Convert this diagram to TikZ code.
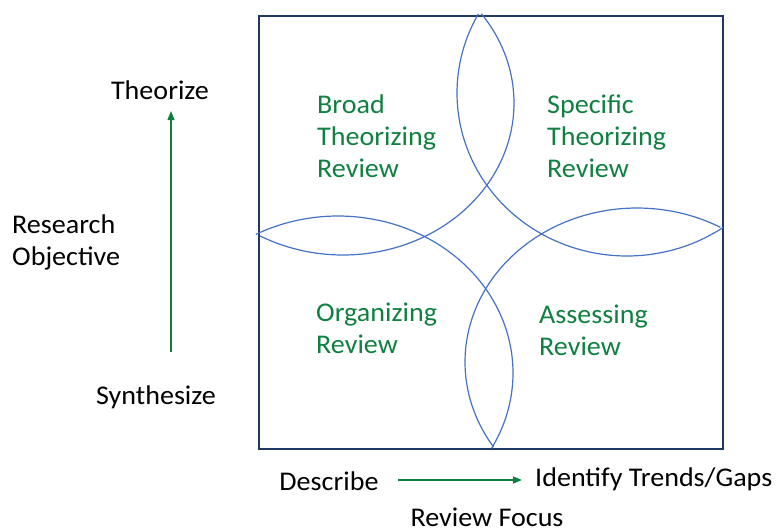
\documentclass[tikz,border=0pt]{standalone}
\usepackage{fontspec}
\setmainfont{Carlito}[FakeStretch=1.04]
\usetikzlibrary{arrows.meta}
\definecolor{petal}{RGB}{68,114,196}
\definecolor{frame}{RGB}{32,56,100}
\definecolor{lbl}{RGB}{16,128,64}
\tikzset{
  petalarc/.style={draw=petal, line width=1.2pt},
  quadtext/.style={text=lbl, align=left, inner sep=0pt, anchor=west, font=\fontsize{27}{32}\selectfont},
  axistext/.style={text=black, inner sep=0pt, font=\fontsize{27}{32}\selectfont},
  axisarrow/.style={draw=lbl, line width=1.3pt, -{Triangle[length=9pt,width=7pt]}}
}
\begin{document}
\begin{tikzpicture}[x=1pt,y=-1pt]
\useasboundingbox (0,0) rectangle (778,531);
% frame
\draw[frame, line width=1.5pt] (259,16) rectangle (723,449);
% petal arcs (ellipse pieces)
\draw[petalarc] plot[domain=55.5:209, samples=120, smooth] ({627+170*cos(\x)}, {93+163*sin(\x)});
\draw[petalarc] plot[domain=-36:119, samples=120, smooth] ({343+171*cos(\x)}, {103+152*sin(\x)});
\draw[petalarc] plot[domain=-118:28.7, samples=120, smooth] ({338+175*cos(\x)}, {373+157*sin(\x)});
\draw[petalarc] plot[domain=-213.5:-61, samples=120, smooth] ({637+172*cos(\x)}, {362+154*sin(\x)});
% quadrant labels
\node[quadtext] (broad) at (317,136) {Broad\\Theorizing\\Review};
\node[quadtext] (specific) at (547,136) {Specific\\Theorizing\\Review};
\node[quadtext] (organizing) at (316,328) {Organizing\\Review};
\node[quadtext] (assessing) at (539,330) {Assessing\\Review};
% vertical axis
\node[axistext] (theorize) at (160,90) {Theorize};
\node[axistext] (synth) at (156,397) {Synthesize};
\node[axistext, align=left, anchor=west] (objective) at (12,242) {Research\\Objective};
\coordinate (vbot) at (171,352);
\coordinate (vtop) at (171,111);
\draw[axisarrow] (vbot) -- (vtop);
% horizontal axis
\node[axistext] (describe) at (329,481) {Describe};
\node[axistext, anchor=west] (identify) at (535,479) {Identify Trends/Gaps};
\node[axistext] (focus) at (487,517) {Review Focus};
\coordinate (hl) at (398,480);
\coordinate (hr) at (522,480);
\draw[axisarrow] (hl) -- (hr);
\end{tikzpicture}
\end{document}
